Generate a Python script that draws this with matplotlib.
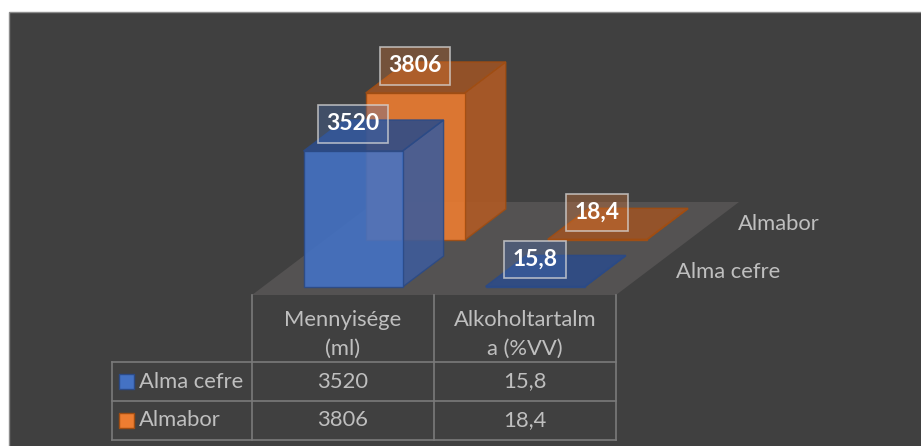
import matplotlib.pyplot as plt
from matplotlib.patches import Polygon, Rectangle

# Data
categories = ['Mennyisége\n(ml)', 'Alkoholtartalm\na (%VV)']
series_names = ['Alma cefre', 'Almabor']
alma_cefre = [3520, 15.8]
almabor = [3806, 18.4]
series_values = [alma_cefre, almabor]

# Styling per series: front, side, top, edge
series_colors = [
    ('#4472C4', '#3E5C9A', '#2E4C88', '#2B4A86'),
    ('#ED7D31', '#B05A25', '#9C5426', '#A04D12'),
]

BG = '#404040'
FLOOR = '#545252'
TEXT = '#BFBFBF'
GRID = '#7A7A7A'
FONT = 'Lato'
FS = 15.8

# Oblique 3D layout, in pixels
ORIGIN = (252, 295)     # front-left corner of the floor
SLANT = 123 / 93        # horizontal shift per pixel of depth
CAT_W = 182
BAR_INSET = 41
BAR_W = 99
ROW_MARGIN = 8
ROW_PITCH = 47
BAR_DEPTH = 31
FLOOR_DEPTH = 93
VALUE_PX = 136 / 3520   # pixels per unit of value

# Table layout
TABLE_LEFT = 112
HEADER_BOTTOM = 362
ROW_H = 39


def project(x, s, h):
    return ORIGIN[0] + x + s * SLANT, ORIGIN[1] - s - h


def fmt(v):
    return f'{v:g}'.replace('.', ',')


def draw_bar(ax, i, j, value):
    front_c, side_c, top_c, edge_c = series_colors[j]
    x0 = i * CAT_W + BAR_INSET
    x1 = x0 + BAR_W
    s0 = ROW_MARGIN + j * ROW_PITCH
    s1 = s0 + BAR_DEPTH
    h = value * VALUE_PX
    front = [project(x0, s0, 0), project(x1, s0, 0), project(x1, s0, h), project(x0, s0, h)]
    right = [project(x1, s0, 0), project(x1, s1, 0), project(x1, s1, h), project(x1, s0, h)]
    top = [project(x0, s0, h), project(x1, s0, h), project(x1, s1, h), project(x0, s1, h)]
    for pts, c in [(right, side_c), (front, front_c), (top, top_c)]:
        ax.add_patch(Polygon(pts, closed=True, facecolor=c, edgecolor=edge_c,
                             lw=1.0, alpha=0.9, zorder=3 + (1 - j)))
    # value label above the front top edge
    r, g, b = [int(front_c[k:k + 2], 16) / 255 for k in (1, 3, 5)]
    cx, cy = project((x0 + x1) / 2, s0, h)
    ax.text(cx, cy - 27, fmt(value), ha='center', va='center', color='white',
            fontsize=16.5, fontweight='bold', family=FONT, zorder=10,
            bbox=dict(boxstyle='square,pad=0.36', facecolor=(r, g, b, 0.3),
                      edgecolor=(0.85, 0.85, 0.85, 0.75), lw=1.2))


fig = plt.figure(figsize=(9.21, 4.46), dpi=100, facecolor='white')
ax = fig.add_axes([0, 0, 1, 1])
ax.set_xlim(0, 921)
ax.set_ylim(446, 0)
ax.axis('off')

# chart area
ax.add_patch(Rectangle((9, 12), 930, 450, facecolor=BG, edgecolor='#8C8C8C', lw=1.0, zorder=0))

# floor
floor = [project(0, 0, 0), project(2 * CAT_W, 0, 0),
         project(2 * CAT_W, FLOOR_DEPTH, 0), project(0, FLOOR_DEPTH, 0)]
ax.add_patch(Polygon(floor, closed=True, facecolor=FLOOR, edgecolor='none', zorder=1))

# bars, back row first
for j in reversed(range(len(series_names))):
    for i, v in enumerate(series_values[j]):
        draw_bar(ax, i, j, v)

# depth axis labels
for j, name in enumerate(series_names):
    x, y = project(2 * CAT_W, ROW_MARGIN + j * ROW_PITCH + BAR_DEPTH / 2, 0)
    ax.text(x + 29, y, name, ha='left', va='center', color=TEXT, fontsize=FS, family=FONT)

# data table
n_rows = len(series_names)
table_bottom = HEADER_BOTTOM + n_rows * ROW_H
col_x = [ORIGIN[0] + i * CAT_W for i in range(len(categories) + 1)]
for x in col_x:
    ax.plot([x, x], [ORIGIN[1], table_bottom], color=GRID, lw=1.2, zorder=2)
ax.plot([TABLE_LEFT, TABLE_LEFT], [HEADER_BOTTOM, table_bottom], color=GRID, lw=1.2, zorder=2)
for r in range(n_rows + 1):
    y = HEADER_BOTTOM + r * ROW_H
    ax.plot([TABLE_LEFT, col_x[-1]], [y, y], color=GRID, lw=1.2, zorder=2)

for i, cat in enumerate(categories):
    cx = (col_x[i] + col_x[i + 1]) / 2
    for k, line in enumerate(cat.split('\n')):
        ax.text(cx, 320 + k * 29, line, ha='center', va='center', color=TEXT,
                fontsize=FS, family=FONT)

for j, name in enumerate(series_names):
    cy = HEADER_BOTTOM + (j + 0.5) * ROW_H
    ax.add_patch(Rectangle((119, cy - 7.5), 15, 15, facecolor=series_colors[j][0],
                           edgecolor=series_colors[j][3], lw=1.0, zorder=3))
    ax.text(139, cy, name, ha='left', va='center', color=TEXT, fontsize=FS, family=FONT)
    for i, v in enumerate(series_values[j]):
        cx = (col_x[i] + col_x[i + 1]) / 2
        ax.text(cx, cy, fmt(v), ha='center', va='center', color=TEXT, fontsize=FS, family=FONT)

fig.savefig('out.png', dpi=100, facecolor='white')
